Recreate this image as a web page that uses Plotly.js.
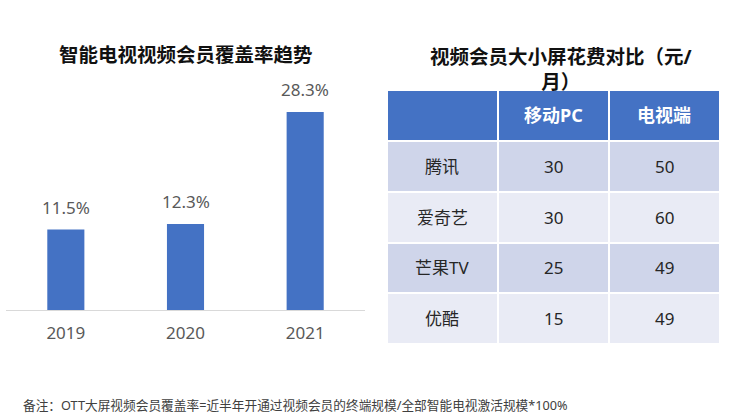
<!DOCTYPE html>
<html>
<head>
<meta charset="utf-8">
<script src="https://cdn.plot.ly/plotly-3.0.1.min.js"></script>
<style>html,body{margin:0;padding:0;background:#fff;}#chart{width:749px;height:418px;}</style>
</head>
<body>
<div id="chart"></div>
<script>
// ---- data ----
const years = ['2019', '2020', '2021'];
const coverage = [11.5, 12.3, 28.3];
const platforms = ['腾讯', '爱奇艺', '芒果TV', '优酷'];
const mobilePC = [30, 30, 25, 15];
const tvEnd = [50, 60, 49, 49];
const tableHeaders = ['', '移动PC', '电视端'];
const leftTitle = '智能电视视频会员覆盖率趋势';
const rightTitle = '视频会员大小屏花费对比（元/<br>月）';
const footnote = '备注：OTT大屏视频会员覆盖率=近半年开通过视频会员的终端规模/全部智能电视激活规模*100%';

// ---- layout constants (pixels) ----
const W = 749, H = 418;
const FONT = 'Noto Sans, Noto Sans CJK SC, sans-serif';
const colEdges = [387, 497.5, 608.5, 720];
const rowEdges = [90, 140.5, 192, 242.5, 293, 344];

// table matrix
const rows = [tableHeaders].concat(platforms.map((p, i) => [p, String(mobilePC[i]), String(tvEnd[i])]));
const z = rows.map((r, i) => r.map(() => (i === 0 ? 0 : (i % 2 === 1 ? 1 : 2))));

const barTrace = {
  type: 'bar', x: years, y: coverage, xaxis: 'x', yaxis: 'y',
  marker: {color: '#4472C4'}, hoverinfo: 'skip'
};
const cellTrace = {
  type: 'heatmap', x: colEdges, y: rowEdges, z: z, xaxis: 'x2', yaxis: 'y2',
  zmin: 0, zmax: 2, showscale: false, xgap: 2, ygap: 2, hoverinfo: 'skip',
  colorscale: [[0, '#4472C4'], [0.5, '#CFD5EA'], [1, '#E9EBF5']]
};

const annotations = [];
// bar value labels
years.forEach((yr, i) => annotations.push({
  x: i, y: coverage[i], xref: 'x', yref: 'y', text: coverage[i].toFixed(1) + '%',
  showarrow: false, yanchor: 'bottom', xanchor: 'center', yshift: 9,
  font: {family: FONT, size: 17, color: '#595959'}
}));
// table texts
rows.forEach((r, i) => r.forEach((t, j) => {
  if (!t) return;
  annotations.push({
    x: (colEdges[j] + colEdges[j + 1]) / 2, y: (rowEdges[i] + rowEdges[i + 1]) / 2,
    xref: 'x2', yref: 'y2', text: i === 0 ? '<b>' + t + '</b>' : t, showarrow: false,
    xanchor: 'center', yanchor: 'middle',
    font: {family: FONT, size: i === 0 ? 18 : 17, color: i === 0 ? '#ffffff' : '#262626'}
  });
}));
// titles
annotations.push({
  x: 186 / W, y: 1 - 54 / H, xref: 'paper', yref: 'paper', text: '<b>' + leftTitle + '</b>',
  showarrow: false, xanchor: 'center', yanchor: 'middle', font: {family: FONT, size: 19.5, color: '#111111'}
});
annotations.push({
  x: 561 / W, y: 1 - 69 / H, xref: 'paper', yref: 'paper', text: '<b>' + rightTitle + '</b>',
  showarrow: false, xanchor: 'center', yanchor: 'middle', align: 'center',
  font: {family: FONT, size: 19.5, color: '#111111'}
});
annotations.push({
  x: 21 / W, y: 1 - 405 / H, xref: 'paper', yref: 'paper', text: footnote, xanchor: 'left', yanchor: 'middle',
  showarrow: false, font: {family: FONT, size: 12.7, color: '#404040'}
});

const layout = {
  width: W, height: H, margin: {l: 0, r: 0, t: 0, b: 0},
  paper_bgcolor: '#ffffff', plot_bgcolor: 'rgba(0,0,0,0)', showlegend: false,
  bargap: 0.69,
  xaxis: {domain: [6 / W, 365 / W], type: 'category', autorange: false, range: [-0.5, years.length - 0.5],
          showline: true, linecolor: '#d9d9d9', linewidth: 1,
          showgrid: false, zeroline: false, ticks: '', ticklabelstandoff: 8,
          tickfont: {family: FONT, size: 17, color: '#595959'}, fixedrange: true},
  yaxis: {domain: [1 - 310 / H, 1 - 80 / H], autorange: false, range: [0, 230 / 7.0], visible: false, fixedrange: true},
  xaxis2: {domain: [colEdges[0] / W, colEdges[3] / W], autorange: false, range: [colEdges[0], colEdges[3]], visible: false, anchor: 'y2'},
  yaxis2: {domain: [1 - rowEdges[5] / H, 1 - rowEdges[0] / H], autorange: false, range: [rowEdges[5], rowEdges[0]], visible: false, anchor: 'x2'},
  annotations: annotations
};

Plotly.newPlot('chart', [barTrace, cellTrace], layout, {displayModeBar: false, staticPlot: true});
</script>
</body>
</html>
